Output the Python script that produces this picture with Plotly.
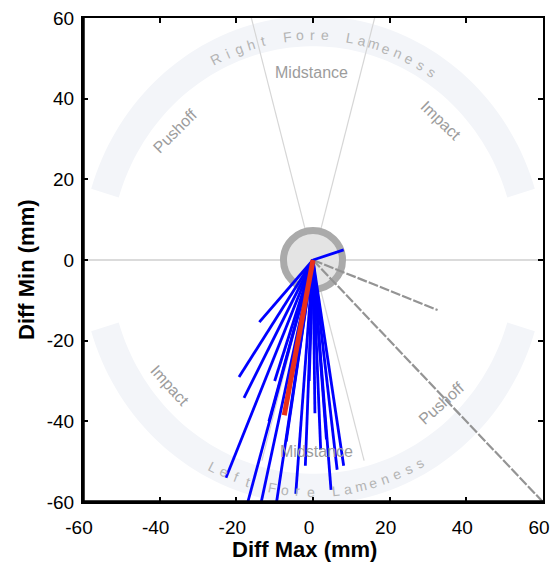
import numpy as np
import plotly.graph_objects as go

# ---------------- data ----------------
x_range = [-60, 60]
y_range = [-60, 60]
tick_vals = [-60, -40, -20, 0, 20, 40, 60]
tick_text = ["-60", "-40", "-20", "0", "20", "40", "60"]

# end points of the blue stride vectors (start at origin)
blue_end_x = [-14.0, -19.3, -18.0, -22.7, -17.0, -13.5, -9.5, -7.0, -11.5,
              -2.0, 4.7, 6.3, 8.0, 2.0, -4.5, 0.5, -1.0, 3.5, -10.0, -5.0, 8.0]
blue_end_y = [-15.4, -29.0, -34.2, -54.0, -60.0, -60.0, -60.0, -45.0, -40.0,
              -51.0, -57.0, -52.0, -51.0, -47.0, -58.0, -38.0, -30.0, -44.5, -30.0, -25.0, 2.5]
# mean vector (red)
red_end_x = [-7.5]
red_end_y = [-38.5]
# gray vectors
gray_end_x = [60.0, 32.5]
gray_end_y = [-60.0, -12.4]

# sector decoration
sector_angles_top = [105, 75]
sector_angles_bottom = [-105, -75]
sector_labels = ["Midstance", "Impact", "Pushoff", "Impact", "Pushoff", "Midstance"]
sector_label_x = [-0.5, 33.4, -35.8, -37.3, 33.4, 0.8]
sector_label_y = [46.6, 34.7, 32.0, -31.0, -35.5, -47.4]
sector_label_angle = [0, 44, -45, 48, -42, 0]

top_title = "Right Fore Lameness"
bottom_title = "Left Fore Lameness"


def rays(ex, ey):
    xs, ys = [], []
    for a, b in zip(ex, ey):
        xs += [0, a, None]
        ys += [0, b, None]
    return xs, ys


def band_path(r0, r1, a0, a1, n=80):
    t = np.radians(np.linspace(a0, a1, n))
    pts = [(r1 * np.cos(v), r1 * np.sin(v)) for v in t]
    pts += [(r0 * np.cos(v), r0 * np.sin(v)) for v in t[::-1]]
    return "M " + " L ".join(f"{x:.3f},{y:.3f}" for x, y in pts) + " Z"


fig = go.Figure()

shapes = []
band_col = "#f3f5f9"
shapes.append(dict(type="path", path=band_path(53, 60.5, 17, 163), fillcolor=band_col,
                   line=dict(width=0), layer="below", xref="x", yref="y"))
shapes.append(dict(type="path", path=band_path(53, 60.5, -163, -17), fillcolor=band_col,
                   line=dict(width=0), layer="below", xref="x", yref="y"))
for a in sector_angles_top:
    shapes.append(dict(type="line", x0=0, y0=0, x1=65 * np.cos(np.radians(a)),
                       y1=65 * np.sin(np.radians(a)), line=dict(color="#d6d6d6", width=1.2),
                       layer="below", xref="x", yref="y"))
for a in sector_angles_bottom:
    shapes.append(dict(type="line", x0=0, y0=0, x1=51.5 * np.cos(np.radians(a)),
                       y1=51.5 * np.sin(np.radians(a)), line=dict(color="#d6d6d6", width=1.2),
                       layer="below", xref="x", yref="y"))
shapes.append(dict(type="line", x0=-60, y0=0, x1=60, y1=0, line=dict(color="#cfcfcf", width=1.5),
                   layer="below", xref="x", yref="y"))
shapes.append(dict(type="circle", x0=-7.7, x1=7.7, y0=-7.3, y1=7.3, fillcolor="#e4e4e4",
                   line=dict(color="#aaaaaa", width=7), layer="below", xref="x", yref="y"))
# thick left / bottom frame
shapes.append(dict(type="line", xref="paper", yref="paper", x0=0, x1=0, y0=0, y1=1,
                   line=dict(color="black", width=3.5)))
shapes.append(dict(type="line", xref="paper", yref="paper", x0=0, x1=1, y0=0, y1=0,
                   line=dict(color="black", width=3.5)))

gx, gy = rays(gray_end_x, gray_end_y)
fig.add_trace(go.Scatter(x=gx, y=gy, mode="lines", line=dict(color="#949494", width=2.2, dash="10px,2px"),
                         hoverinfo="skip", showlegend=False))
bx, by = rays(blue_end_x, blue_end_y)
fig.add_trace(go.Scatter(x=bx, y=by, mode="lines", line=dict(color="#0000ff", width=2.8),
                         hoverinfo="skip", showlegend=False))
rx, ry = rays(red_end_x, red_end_y)
fig.add_trace(go.Scatter(x=rx, y=ry, mode="lines", line=dict(color="#e8301c", width=5),
                         hoverinfo="skip", showlegend=False))

annotations = []
lab_col = "#9c9c9c"
for t, x, y, ang in zip(sector_labels, sector_label_x, sector_label_y, sector_label_angle):
    annotations.append(dict(text=t, x=x, y=y, xref="x", yref="y", showarrow=False,
                            textangle=ang, font=dict(family="Liberation Sans", size=16, color=lab_col)))

arc_col = "#b4b4b4"
# top arc text: tops outward, reading clockwise
n = len(top_title)
a_start, a_end, r_top = 117.0, 56.5, 55.8
for i, ch in enumerate(top_title):
    if ch == " ":
        continue
    th = a_start + (a_end - a_start) * i / (n - 1)
    annotations.append(dict(text=ch, x=r_top * np.cos(np.radians(th)), y=r_top * np.sin(np.radians(th)),
                            xref="x", yref="y", showarrow=False, textangle=90 - th,
                            font=dict(family="Liberation Sans", size=14, color=arc_col)))
n = len(bottom_title)
a_start, a_end, r_bot = -117.0, -61.0, 57.5
for i, ch in enumerate(bottom_title):
    if ch == " ":
        continue
    th = a_start + (a_end - a_start) * i / (n - 1)
    annotations.append(dict(text=ch, x=r_bot * np.cos(np.radians(th)), y=r_bot * np.sin(np.radians(th)),
                            xref="x", yref="y", showarrow=False, textangle=-th - 90,
                            font=dict(family="Liberation Sans", size=14, color=arc_col)))

# axis titles (placed by pixel centre, converted to paper coordinates below)
annotations.append(dict(text="<b>Diff Max (mm)</b>", x=304, y=549, xref="paper", yref="paper",
                        xanchor="center", yanchor="middle", showarrow=False,
                        font=dict(family="Liberation Sans", size=22, color="black")))
annotations.append(dict(text="<b>Diff Min (mm)</b>", x=26, y=270, xref="paper", yref="paper",
                        xanchor="center", yanchor="middle", showarrow=False, textangle=-90,
                        font=dict(family="Liberation Sans", size=22, color="black")))

L, R, T, B = 83, 7, 18, 61
W, H = 550, 563
pw, ph = W - L - R, H - T - B
for a in annotations[-2:]:
    a["x"] = (a["x"] - L) / pw
    a["y"] = (H - B - a["y"]) / ph

axis_common = dict(showgrid=False, zeroline=False, showline=True, linecolor="black", linewidth=2,
                   mirror="allticks", ticks="inside", ticklen=5, tickwidth=2, tickcolor="black",
                   tickvals=tick_vals, ticktext=tick_text, ticklabeloverflow="allow", automargin=False,
                   tickfont=dict(family="Liberation Sans", size=19, color="black"))

fig.update_layout(
    width=W, height=H,
    margin=dict(l=L, r=R, t=T, b=B, autoexpand=False),
    paper_bgcolor="white", plot_bgcolor="white",
    xaxis=dict(range=x_range, ticklabelstandoff=7, ticklabelshift=-4, **axis_common),
    yaxis=dict(range=y_range, ticklabelstandoff=3, **axis_common),
    shapes=shapes,
    annotations=annotations,
    showlegend=False,
)

fig.write_html("out.html", config={"displayModeBar": False},
               post_script="document.body.style.margin='0';document.body.style.overflow='hidden';")
